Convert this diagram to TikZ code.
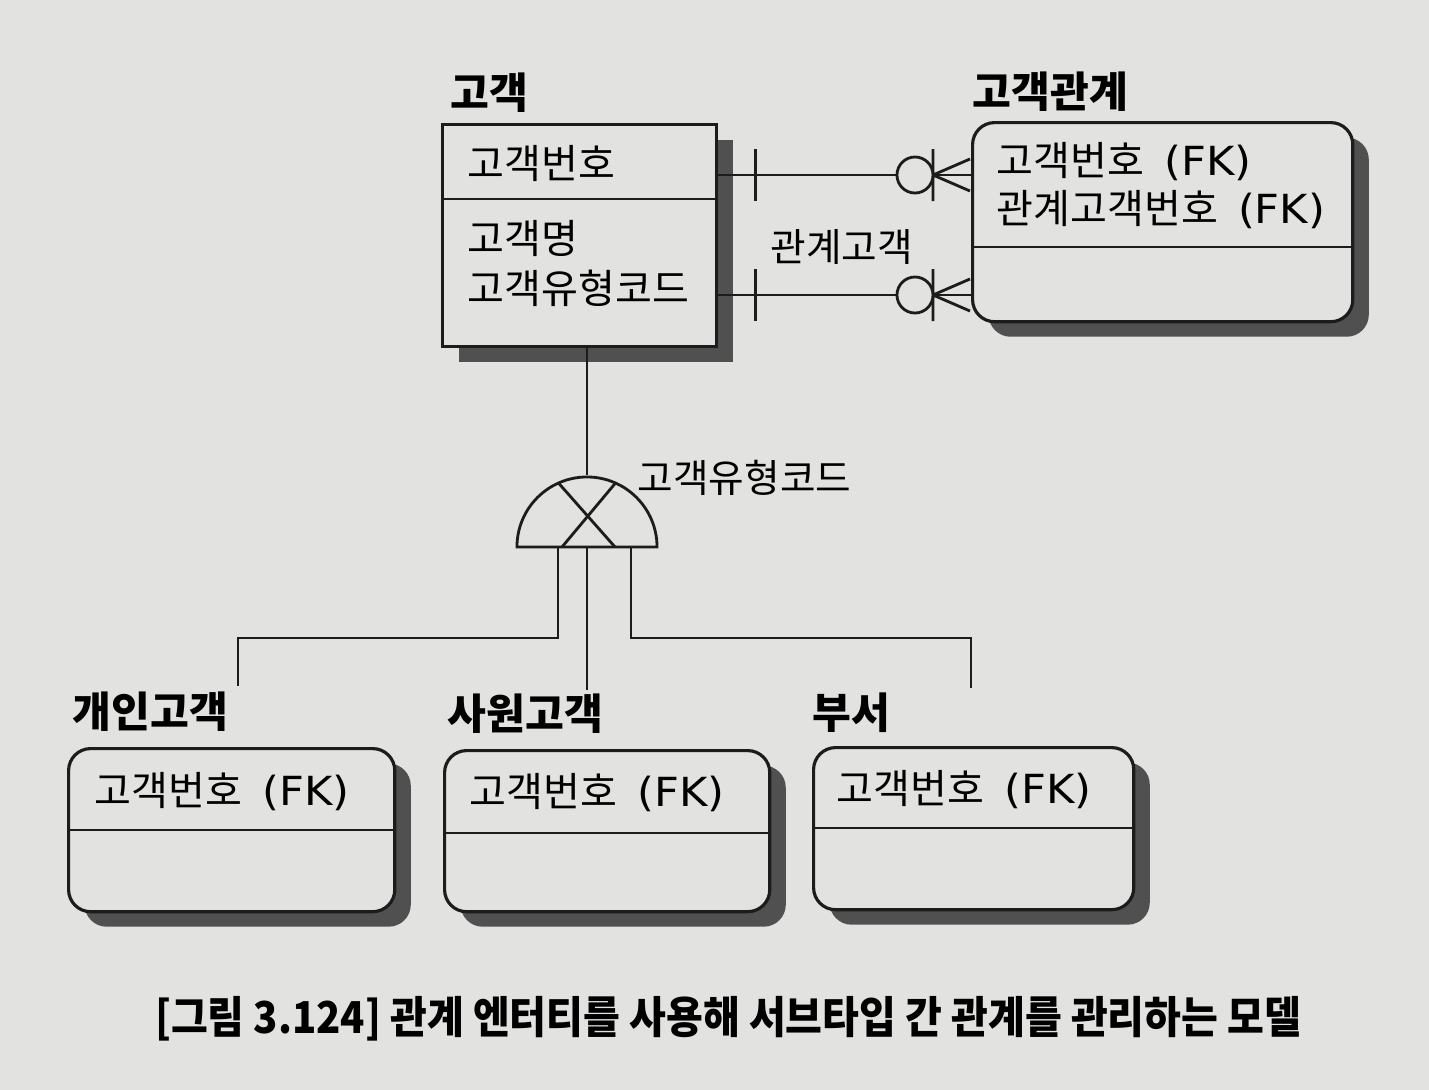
\documentclass[tikz,border=0pt]{standalone}
\usepackage{fontspec}
\setmainfont{Noto Sans CJK KR}
\newfontfamily\latinfont{DejaVu Sans}
\usetikzlibrary{shadows}

\definecolor{paper}{RGB}{226,226,224}
\definecolor{ink}{RGB}{28,28,28}
\definecolor{shade}{RGB}{80,80,80}

\newcommand\fk{\hspace{0.2cm}\scalebox{1.08}[1]{\latinfont(FK)}}

\tikzset{
  ent/.style={draw=ink, line width=0.9pt, fill=paper, anchor=north west, inner sep=0pt,
    general shadow={fill=shade, shadow xshift=0.16cm, shadow yshift=-0.15cm}},
  dep/.style={ent, rounded corners=0.22cm},
  title/.style={font=\fontsize{12}{14}\selectfont\bfseries, anchor=west, inner sep=0pt},
  attr/.style={font=\fontsize{11.4}{13}\selectfont, anchor=west, inner sep=0pt},
  lbl/.style={font=\fontsize{11}{13}\selectfont, anchor=west, inner sep=0pt},
  rel/.style={draw=ink, line width=0.8pt}
}

\begin{document}
\begin{tikzpicture}[x=0.01cm, y=-0.01cm]
  \fill[paper] (0,0) rectangle (1429,1090);
  \useasboundingbox (0,0) rectangle (1429,1090);

  % supertype
  \node[title] (gogaekT) at (450,93) {고객};
  \node[ent, minimum width=2.74cm, minimum height=2.22cm] (gogaek) at (441,123) {};
  \draw[rel] ([yshift=-0.76cm]gogaek.north west) -- ([yshift=-0.76cm]gogaek.north east);
  \node[attr] (gA1) at (467,163) {고객번호};
  \node[attr] (gA2) at (467,238) {고객명};
  \node[attr] (gA3) at (467,288) {고객유형코드};

  % relation entity
  \node[title] (gwangyeT) at (972,92) {고객관계};
  \node[dep, minimum width=3.80cm, minimum height=1.99cm] (gwangye) at (971,121) {};
  \draw[rel] ([yshift=-1.26cm]gwangye.north west) -- ([yshift=-1.26cm]gwangye.north east);
  \node[attr] (kA1) at (996,162) {고객번호\fk};
  \node[attr] (kA2) at (996,210) {관계고객번호\fk};

  % two relationships
  \coordinate (kf1) at (933,175);
  \coordinate (kf2) at (933,295);
  \draw[rel] (gogaek.east |- kf1) -- (gwangye.west |- kf1);
  \draw[rel] (gogaek.east |- kf2) -- (gwangye.west |- kf2);
  \draw[rel] (gogaek.east |- kf1) ++(37,-26) -- ++(0,52);
  \draw[rel] (gogaek.east |- kf2) ++(37,-26) -- ++(0,52);
  \draw[rel] (kf1) -- ++(37,-16) (kf1) -- ++(37,16) (kf1) ++(0,-26) -- ++(0,52);
  \draw[rel] (kf2) -- ++(37,-16) (kf2) -- ++(37,16) (kf2) ++(0,-26) -- ++(0,52);
  \draw[rel, fill=paper] ([xshift=-0.18cm]kf1) circle (0.18cm);
  \draw[rel, fill=paper] ([xshift=-0.18cm]kf2) circle (0.18cm);
  \node[lbl] (relLbl) at (770,247) {관계고객};

  % category
  \coordinate (cat) at (587,547);
  \draw[rel] (gogaek.south -| cat) -- ([yshift=0.72cm]cat);
  \draw[rel, fill=paper] ([xshift=0.70cm]cat) arc[start angle=0, end angle=180, radius=0.70cm] -- cycle;
  \draw[rel] ([shift={(114:0.70cm)}]cat) -- ([xshift=0.28cm]cat);
  \draw[rel] ([shift={(66:0.70cm)}]cat) -- ([xshift=-0.25cm]cat);
  \node[lbl] (catLbl) at (637,478) {고객유형코드};

  \coordinate (gaeinTop) at (238,686);
  \coordinate (sawonTop) at (587,690);
  \coordinate (buseoTop) at (971,688);
  \draw[rel] ([xshift=-0.29cm]cat) -- ++(0,91) -| (gaeinTop);
  \draw[rel] (cat) -- (sawonTop);
  \draw[rel] ([xshift=0.44cm]cat) -- ++(0,91) -| (buseoTop);

  % subtypes
  \node[title] (gaeinT) at (72,712) {개인고객};
  \node[dep, minimum width=3.26cm, minimum height=1.63cm] (gaein) at (67,747) {};
  \draw[rel] ([yshift=-0.83cm]gaein.north west) -- ([yshift=-0.83cm]gaein.north east);
  \node[attr] (pA1) at (94,792) {고객번호\fk};

  \node[title] (sawonT) at (447,714) {사원고객};
  \node[dep, minimum width=3.25cm, minimum height=1.61cm] (sawon) at (443,749) {};
  \draw[rel] ([yshift=-0.84cm]sawon.north west) -- ([yshift=-0.84cm]sawon.north east);
  \node[attr] (sA1) at (469,793) {고객번호\fk};

  \node[title] (buseoT) at (812,713) {부서};
  \node[dep, minimum width=3.20cm, minimum height=1.62cm] (buseo) at (812,746) {};
  \draw[rel] ([yshift=-0.82cm]buseo.north west) -- ([yshift=-0.82cm]buseo.north east);
  \node[attr] (bA1) at (836,790) {고객번호\fk};

  % caption
  \node[font=\fontsize{12.5}{14}\selectfont\bfseries, inner sep=0pt] (caption) at (728,1019)
    {\scalebox{0.91}[1]{[그림 3.124] 관계 엔터티를 사용해 서브타입 간 관계를 관리하는 모델}};
\end{tikzpicture}
\end{document}
